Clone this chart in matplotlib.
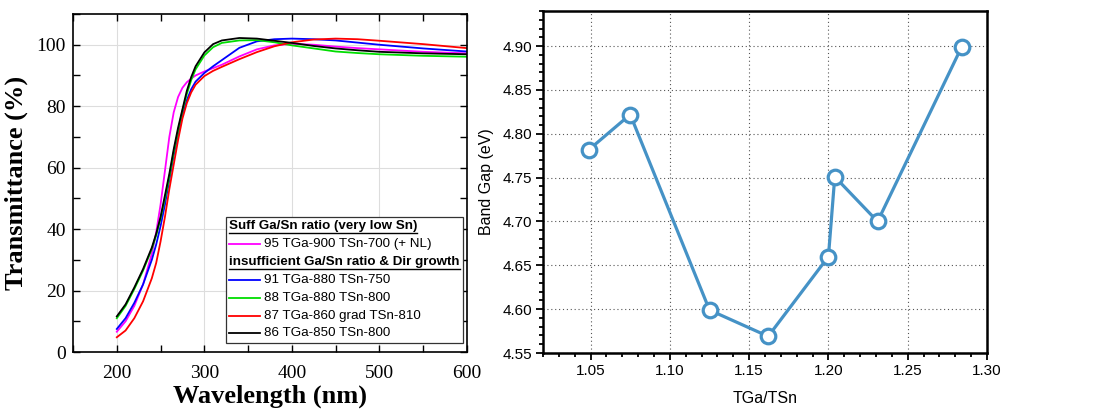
import matplotlib
matplotlib.use("Agg")
import matplotlib.pyplot as plt
from matplotlib.lines import Line2D
from matplotlib.transforms import IdentityTransform
from matplotlib.ticker import MultipleLocator
from matplotlib.offsetbox import AnchoredOffsetbox, VPacker, HPacker, TextArea, DrawingArea

# ==== data: transmittance spectra ====
wavelength = [200, 210, 220, 230, 240, 245, 250, 255, 260, 265, 270, 275, 280, 285,
              290, 300, 310, 320, 340, 360, 380, 400, 425, 450, 475, 500, 550, 600]

t_95 = [6.6, 10, 15, 22, 32, 39, 48, 59, 70, 78, 83, 86, 87.8, 89,
        90, 91.3, 92.4, 93.5, 96.2, 98.5, 99.8, 100.3, 100, 99.4, 98.9, 98.5, 97.7, 97.2]
t_91 = [7.5, 11, 16, 22, 30, 35, 41, 48, 56, 64, 71, 77, 82, 85.5,
        88, 90.8, 93, 95, 99, 101.1, 101.8, 102, 101.8, 101.4, 100.7, 100, 98.8, 97.8]
t_88 = [11, 15, 20.5, 26.5, 33.5, 38, 43.5, 50, 57, 65, 72, 78.5, 84, 88.5,
        92, 96.5, 99.2, 100.6, 101.4, 101.5, 100.8, 99.8, 98.8, 97.8, 97.3, 96.9, 96.4, 96.1]
t_87 = [4.8, 7, 11, 16.5, 24, 29, 36, 44, 53, 61, 69, 76, 81, 84.5,
        87, 89.8, 91.5, 92.8, 95.3, 97.6, 99.5, 100.8, 101.7, 102, 101.8, 101.3, 100.2, 98.9]
t_86 = [11.6, 15.5, 21, 27, 34, 38.5, 44, 51, 58, 66, 73, 79, 85, 89.5,
        93, 97.5, 100.2, 101.4, 102.2, 102, 101.3, 100.6, 99.6, 98.8, 98.2, 97.7, 97.2, 96.9]

group1_title = "Suff Ga/Sn ratio (very low Sn)"
group1 = [("95 TGa-900 TSn-700 (+ NL)", t_95, "#ff00ff")]
group2_title = "insufficient Ga/Sn ratio & Dir growth"
group2 = [("91 TGa-880 TSn-750", t_91, "#0000ff"),
          ("88 TGa-880 TSn-800", t_88, "#00dd00"),
          ("87 TGa-860 grad TSn-810", t_87, "#ff0000"),
          ("86 TGa-850 TSn-800", t_86, "#000000")]

# ==== data: band gap vs TGa/TSn ====
ratio = [1.049, 1.075, 1.125, 1.162, 1.200, 1.204, 1.231, 1.284]
band_gap = [4.782, 4.822, 4.599, 4.569, 4.660, 4.751, 4.700, 4.899]

fig = plt.figure(figsize=(11.15, 4.16), dpi=100)

# ==== left panel ====
ax1 = fig.add_axes([0.0655, 0.1538, 0.3533, 0.8125])
serif = "Liberation Serif"
for label, y, c in group1 + group2:
    ax1.plot(wavelength, y, color=c, lw=1.3)
ax1.set_xlim(150, 600)
ax1.set_ylim(0, 110)
ax1.xaxis.set_major_locator(MultipleLocator(100))
ax1.xaxis.set_minor_locator(MultipleLocator(50))
ax1.yaxis.set_major_locator(MultipleLocator(20))
ax1.yaxis.set_minor_locator(MultipleLocator(10))
ax1.set_xticks([200, 300, 400, 500, 600])
ax1.grid(True, which="major", color="#dddddd", lw=0.8)
ax1.set_axisbelow(True)
ax1.tick_params(which="both", direction="in", top=True, right=True, width=1)
ax1.tick_params(which="major", length=5)
ax1.tick_params(which="minor", length=5)
ax1.tick_params(axis="x", pad=9)
ax1.tick_params(axis="y", pad=5)
for s in ax1.spines.values():
    s.set_linewidth(1.2)
for t in ax1.get_xticklabels() + ax1.get_yticklabels():
    t.set_fontfamily(serif)
    t.set_fontsize(14)
ax1.set_xlabel("Wavelength (nm)", fontfamily=serif, fontweight="bold", fontsize=19, labelpad=2)
ax1.set_ylabel("Transmittance (%)", fontfamily=serif, fontweight="bold", fontsize=19, labelpad=6)

# legend with underlined group headers
lfont = dict(fontfamily="Liberation Sans", fontsize=9.6)
rows = []
headers = []
for title, members in [(group1_title, group1), (group2_title, group2)]:
    h = TextArea(title, textprops=dict(fontweight="bold", **lfont))
    headers.append(h)
    rows.append(h)
    for label, y, c in members:
        da = DrawingArea(22, 8, 0, 0)
        da.add_artist(Line2D([0, 22], [4, 4], color=c, lw=1.3))
        rows.append(HPacker(children=[da, TextArea(label, textprops=lfont)],
                            sep=3, align="center", pad=0))
box = VPacker(children=rows, sep=4.2, align="left", pad=0)
leg = AnchoredOffsetbox(loc="lower right", child=box, pad=0.25, borderpad=0,
                        bbox_to_anchor=(0.99, 0.027), bbox_transform=ax1.transAxes,
                        frameon=True)
leg.patch.set_edgecolor("#333333")
leg.patch.set_linewidth(0.9)
ax1.add_artist(leg)

# ==== right panel ====
ax2 = fig.add_axes([0.487, 0.1514, 0.3982, 0.822])
blue = "#4592c6"
ax2.plot(ratio, band_gap, color=blue, lw=2.3, marker="o", markersize=10.5,
         markerfacecolor="white", markeredgecolor=blue, markeredgewidth=2.3, zorder=3)
ax2.set_xlim(1.02, 1.30)
ax2.set_ylim(4.55, 4.94)
ax2.xaxis.set_major_locator(MultipleLocator(0.05))
ax2.xaxis.set_minor_locator(MultipleLocator(0.01))
ax2.yaxis.set_major_locator(MultipleLocator(0.05))
ax2.yaxis.set_minor_locator(MultipleLocator(0.01))
ax2.xaxis.set_major_formatter(plt.FormatStrFormatter("%.2f"))
ax2.yaxis.set_major_formatter(plt.FormatStrFormatter("%.2f"))
ax2.grid(True, which="major", color="#555555", ls=(0, (1, 2.5)), lw=0.8)
ax2.tick_params(which="both", direction="out", width=1.3, labelsize=11)
ax2.tick_params(which="major", length=5, pad=3)
ax2.tick_params(which="minor", length=3)
for t in ax2.get_xticklabels() + ax2.get_yticklabels():
    t.set_fontfamily("Liberation Sans")
for s in ax2.spines.values():
    s.set_linewidth(1.8)
ax2.set_xlabel("TGa/TSn", fontfamily="Liberation Sans", fontsize=11.5, labelpad=9)
ax2.set_ylabel("Band Gap (eV)", fontfamily="Liberation Sans", fontsize=11.5, labelpad=6)

# underline the legend headers
fig.canvas.draw()
for h in headers:
    bb = h._text.get_window_extent()
    fig.add_artist(Line2D([bb.x0, bb.x1], [bb.y0 - 1, bb.y0 - 1],
                          transform=IdentityTransform(), color="black", lw=1.0))

fig.savefig("out.png", dpi=100)
